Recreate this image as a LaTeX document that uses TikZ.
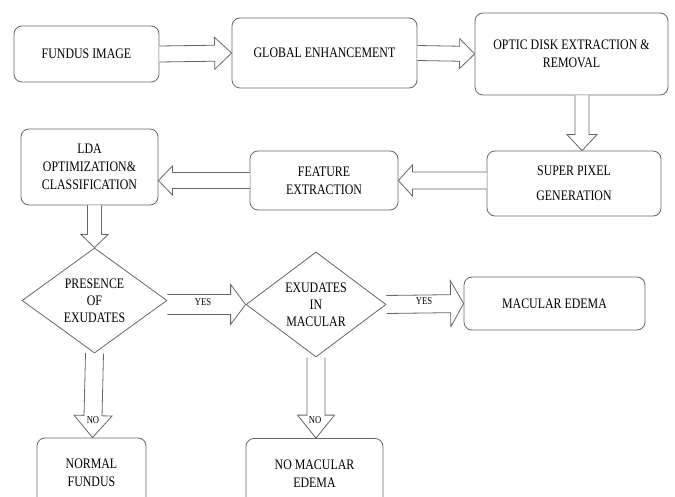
\documentclass[tikz,border=0pt]{standalone}
\usepackage{fontspec}
\setmainfont{Liberation Serif}[FakeStretch=0.82]
\usepackage{tikz}
\usetikzlibrary{shapes.geometric}
\usetikzlibrary{calc}

% hollow block arrow from #1 to #2: shaft half width, head half width, head length
\newcommand{\blockarrow}[5]{%
    \path (#1); \pgfgetlastxy{\arrax}{\array}
    \path (#2); \pgfgetlastxy{\arrbx}{\arrby}
    \pgfmathsetmacro{\arrang}{atan2(\arrby-\array, \arrbx-\arrax)}
    \pgfmathsetmacro{\arrlen}{veclen(\arrbx-\arrax, \arrby-\array)}
    \begin{scope}[shift={(#1)}, rotate=\arrang]
        \draw[arrowline] (0, #3) -- (\arrlen - #5, #3) -- (\arrlen - #5, #4) -- (\arrlen, 0)
            -- (\arrlen - #5, -#4) -- (\arrlen - #5, -#3) -- (0, -#3);
    \end{scope}
}

\begin{document}
\begin{tikzpicture}[x=1pt, y=-1pt, line width=0.8pt,
    stepbox/.style={draw=black!60, rounded corners=8pt, align=center, inner sep=0pt,
        font=\fontsize{14.5}{18}\selectfont},
    decision/.style={draw=black!60, diamond, aspect=1.4, align=center, inner sep=0pt,
        font=\fontsize{14.5}{17}\selectfont},
    arrowline/.style={draw=black!60, fill=white, line join=miter},
    lbl/.style={font=\fontsize{10.5}{11}\selectfont, inner sep=1pt}]
    \useasboundingbox (0, 0) rectangle (675, 497);

    % top row
    \node[stepbox, minimum width=145pt, minimum height=56pt] (fundus) at (86.5, 54) {FUNDUS IMAGE};
    \node[stepbox, minimum width=185pt, minimum height=70pt] (global) at (324.5, 53) {GLOBAL ENHANCEMENT};
    \node[stepbox, minimum width=193pt, minimum height=82pt] (optic) at (571.5, 54) {OPTIC DISK EXTRACTION \&\\REMOVAL};

    % second row
    \node[stepbox, minimum width=174pt, minimum height=65pt, font=\fontsize{14.5}{25}\selectfont] (super) at (574, 183.5) {SUPER PIXEL\\GENERATION};
    \node[stepbox, minimum width=148pt, minimum height=59pt] (feature) at (324, 180.5) {FEATURE\\EXTRACTION};
    \node[stepbox, minimum width=137pt, minimum height=76pt] (lda) at (89.5, 167) {LDA\\OPTIMIZATION\&\\CLASSIFICATION};

    % decisions
    \node[decision, minimum width=145pt, minimum height=105pt] (presence) at (94.5, 300.5) {PRESENCE\\OF\\EXUDATES};
    \node[decision, minimum width=140pt, minimum height=105pt] (macular) at (316, 304.5) {EXUDATES\\IN\\MACULAR};
    \node[stepbox, minimum width=181pt, minimum height=53pt] (edema) at (554.5, 303.5) {MACULAR EDEMA};

    % results
    \node[stepbox, minimum width=109pt, minimum height=70pt] (normal) at (91.5, 473) {NORMAL\\FUNDUS};
    \node[stepbox, minimum width=137pt, minimum height=70pt] (noedema) at (314.5, 473.5) {NO MACULAR\\EDEMA};

    % block arrows
    \coordinate (opticout) at ([xshift=8pt]super.north);
    \coordinate (noout) at ([xshift=1pt]normal.north);
    \blockarrow{fundus.east}{global.west}{8}{16}{17}
    \blockarrow{global.east}{optic.west}{7.5}{15}{15}
    \blockarrow{opticout |- optic.south}{opticout}{7}{15}{16}
    \blockarrow{super.west |- feature.east}{feature.east}{8.5}{15.5}{14}
    \blockarrow{feature.west}{lda.east |- feature.west}{8}{14.5}{14}
    \blockarrow{presence.north |- lda.south}{presence.north}{7}{13.5}{13}
    \blockarrow{presence.east |- macular.west}{macular.west}{10}{20}{15}
    \blockarrow{macular.east}{edema.west}{9}{23}{13}
    \blockarrow{presence.south}{noout |- normal.north}{9}{19}{22}
    \blockarrow{macular.south}{noedema.north -| macular.south}{9}{18.5}{23}

    % branch labels
    \node[lbl] (yes1) at (203, 302) {YES};
    \node[lbl] (yes2) at (424, 301) {YES};
    \node[lbl] (no1) at (93, 420) {NO};
    \node[lbl] (no2) at (315, 420) {NO};
\end{tikzpicture}
\end{document}
